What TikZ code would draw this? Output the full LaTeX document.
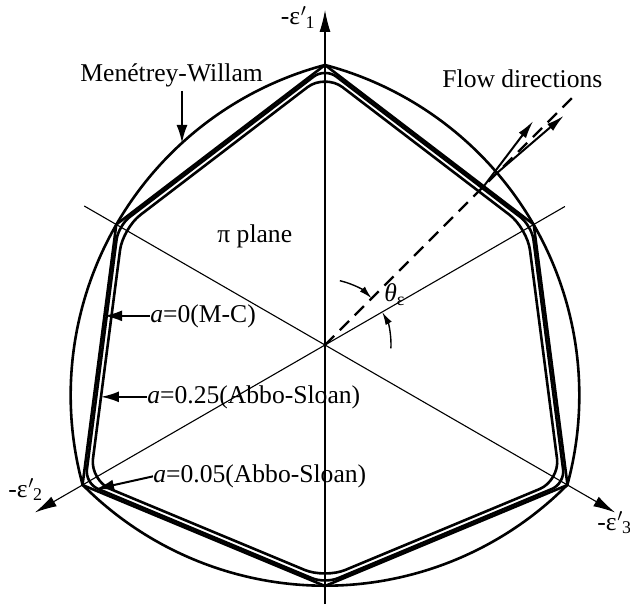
\documentclass[tikz,border=0pt]{standalone}
\usepackage{fontspec}
\setmainfont{Liberation Serif}
\usetikzlibrary{arrows.meta,calc}
\tikzset{
  axis/.style={line width=0.55pt, -{Latex[length=11pt,width=5.5pt]}},
  curve/.style={line width=1.3pt, line join=round},
  lbl/.style={font=\fontsize{12.8}{15}\selectfont, inner sep=0pt},
  ptr/.style={line width=1pt, -{Latex[length=9pt,width=5.5pt]}},
  flow/.style={line width=1pt, -{Latex[length=9pt,width=4.5pt]}},
  dirline/.style={line width=1.1pt, dash pattern=on 6.5pt off 4pt},
  ang/.style={line width=0.7pt, -{Latex[length=6.5pt,width=3.5pt]}}
}
% hexagon through the six meridian points: #1 options, #2 big radius, #3 small radius
\newcommand{\yieldhex}[3]{%
  \draw[curve,#1] ($(90:#2)!0.5!(30:#3)$) -- (90:#2) -- (150:#3) -- (210:#2)
    -- (270:#3) -- (330:#2) -- (30:#3) -- cycle;}
\newcommand{\axlbl}[1]{-ε\kern0.3pt$'$\kern-0.6pt\textsubscript{#1}}

\begin{document}
\begin{tikzpicture}[x=0.5pt,y=0.5pt]
  \useasboundingbox (-325,-259) rectangle (305,345);

  % principal axes
  \coordinate (O) at (0,0);
  \coordinate (e1) at (90:335);  \coordinate (s1) at (0,-259);
  \coordinate (e2) at (210:335); \coordinate (s2) at (30:277);
  \coordinate (e3) at (330:335); \coordinate (s3) at (150:278);
  \foreach \i in {1,2,3}
    \draw[axis] (s\i) -- (e\i);
  \node[lbl, anchor=base east] (l1) at (-9,320) {\axlbl{1}};
  \node[lbl, anchor=base west] (l2) at (-317,-152) {\axlbl{2}};
  \node[lbl, anchor=base west] (l3) at (272,-185) {\axlbl{3}};

  % Menetrey-Willam (three arcs through the M-C corners)
  \coordinate (T) at (90:280);
  \draw[curve] (T) arc[start angle=104.8, end angle=195.2, radius=170.8pt]
    arc[start angle=224.8, end angle=315.2, radius=170.8pt]
    arc[start angle=344.8, end angle=435.2, radius=170.8pt] -- cycle;

  % M-C and Abbo-Sloan
  \yieldhex{sharp corners}{280}{241}
  \yieldhex{rounded corners=7pt}{277}{238.6}
  \yieldhex{rounded corners=11pt}{271.2}{233.4}

  % flow directions
  \coordinate (fd) at (45:350);
  \draw[dirline] (O) -- (fd);
  \coordinate (p1) at (158.7,158.7);
  \coordinate (q1) at ($(p1)+(52.8:82)$);
  \coordinate (p2) at (172.1,172.1);
  \coordinate (q2) at ($(p2)+(40.6:88)$);
  \draw[flow] (p1) -- (q1);
  \draw[flow] (p2) -- (q2);
  \node[lbl, anchor=base west] (fl) at (117,257) {Flow directions};

  % Lode angle
  \coordinate (t1) at (77:66);
  \coordinate (t2) at (-3:66);
  \draw[ang] (t1) arc[start angle=77, end angle=45, radius=33pt];
  \draw[ang] (t2) arc[start angle=-3, end angle=30, radius=33pt];
  \node[lbl, anchor=base west] (th) at (59,43) {\textit{θ}\textsubscript{ε}};

  \node[lbl, anchor=base west] (pp) at (-108,102) {π plane};

  % labels
  \node[lbl, anchor=base west] (mw) at (-245,263) {Menétrey-Willam};
  \coordinate (hmw) at (-143,202);
  \draw[ptr] ($(mw.south -| hmw)+(0,-3)$) -- (hmw);

  \node[lbl, anchor=base west] (a0) at (-175,23) {\textit{a}=0(M-C)};
  \coordinate (h0) at (-220.8,27);
  \draw[ptr] (a0.west) -- (a0.west -| h0);

  \node[lbl, anchor=base west] (a25) at (-178,-58) {\textit{a}=0.25(Abbo-Sloan)};
  \coordinate (h25) at (-224,-52);
  \draw[ptr] (a25.west) -- (a25.west -| h25);

  \node[lbl, anchor=base west] (a05) at (-172,-137.5) {\textit{a}=0.05(Abbo-Sloan)};
  \coordinate (h05) at (-229,-144);
  \draw[ptr] (a05.west) -- (h05);
\end{tikzpicture}
\end{document}
